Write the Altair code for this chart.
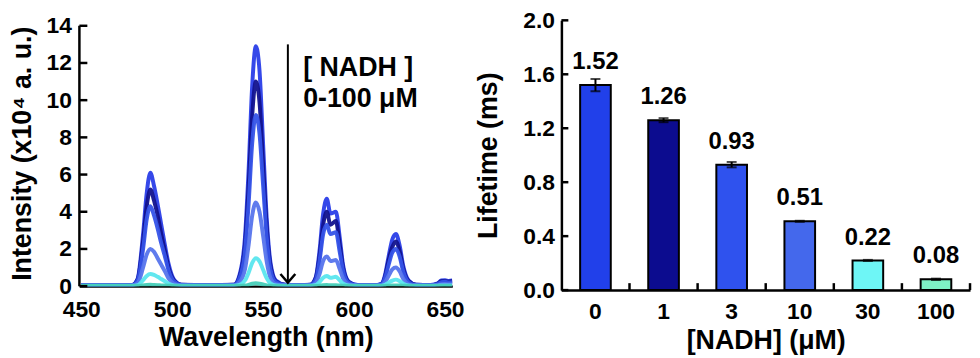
import altair as alt
import pandas as pd

# ---------------- data ----------------
wavelength = [450, 470, 478, 481, 484, 486, 488, 490, 492, 494,
              496, 498, 501, 505, 520, 534, 537, 540, 542, 544,
              546, 548, 550, 552, 554, 557, 562, 570, 576, 579,
              581, 583, 585, 587, 590, 592, 594, 597, 602, 612,
              615, 617, 619, 621, 623, 625, 627, 630, 634, 642,
              646, 648, 650, 652, 654]

spec_0uM = [0.05, 0.05, 0.06, 0.40, 2.8, 5.0, 6.1, 5.4, 4.4, 3.3,
            2.2, 1.2, 0.35, 0.08, 0.05, 0.08, 0.6, 2.6, 6.2, 10.8,
            12.9, 11.6, 7.6, 3.6, 1.3, 0.3, 0.08, 0.05, 0.08, 0.5,
            1.9, 3.9, 4.7, 3.9, 4.0, 2.7, 1.1, 0.25, 0.06, 0.05,
            0.12, 0.6, 1.6, 2.5, 2.8, 2.2, 1.1, 0.3, 0.08, 0.06,
            0.15, 0.30, 0.32, 0.28, 0.30]
spec_1uM = [0.05, 0.05, 0.06, 0.35, 2.4, 4.3, 5.2, 4.6, 3.8, 2.8,
            1.9, 1.0, 0.30, 0.07, 0.05, 0.07, 0.5, 2.2, 5.3, 9.2,
            11.0, 9.9, 6.5, 3.1, 1.1, 0.25, 0.07, 0.05, 0.07, 0.45,
            1.6, 3.3, 4.0, 3.3, 3.5, 2.3, 0.95, 0.22, 0.05, 0.05,
            0.10, 0.5, 1.4, 2.1, 2.4, 1.9, 0.95, 0.26, 0.07, 0.05,
            0.13, 0.26, 0.27, 0.24, 0.26]
spec_3uM = [0.04, 0.04, 0.05, 0.30, 2.0, 3.6, 4.3, 3.8, 3.1, 2.3,
            1.6, 0.85, 0.25, 0.06, 0.04, 0.06, 0.43, 1.85, 4.4, 7.7,
            9.2, 8.2, 5.4, 2.6, 0.9, 0.21, 0.06, 0.04, 0.06, 0.36,
            1.35, 2.8, 3.3, 2.8, 2.9, 1.9, 0.8, 0.18, 0.04, 0.04,
            0.09, 0.43, 1.15, 1.8, 2.0, 1.6, 0.8, 0.21, 0.06, 0.04,
            0.11, 0.21, 0.23, 0.20, 0.21]
spec_10uM = [0.03, 0.03, 0.03, 0.15, 1.0, 1.7, 2.0, 1.85, 1.5, 1.15,
             0.8, 0.42, 0.12, 0.03, 0.03, 0.03, 0.21, 0.9, 2.2, 3.8,
             4.5, 4.0, 2.7, 1.3, 0.45, 0.10, 0.03, 0.03, 0.03, 0.18,
             0.65, 1.35, 1.6, 1.35, 1.4, 0.95, 0.4, 0.09, 0.03, 0.03,
             0.04, 0.21, 0.56, 0.9, 1.0, 0.8, 0.4, 0.10, 0.03, 0.03,
             0.05, 0.10, 0.11, 0.10, 0.10]
spec_30uM = [0.02, 0.02, 0.02, 0.05, 0.32, 0.55, 0.65, 0.6, 0.5, 0.38,
             0.26, 0.14, 0.04, 0.02, 0.02, 0.02, 0.07, 0.3, 0.72, 1.25,
             1.5, 1.33, 0.88, 0.42, 0.15, 0.04, 0.02, 0.02, 0.02, 0.06,
             0.22, 0.45, 0.55, 0.45, 0.5, 0.32, 0.13, 0.03, 0.02, 0.02,
             0.02, 0.07, 0.19, 0.3, 0.35, 0.27, 0.13, 0.04, 0.02, 0.02,
             0.02, 0.04, 0.04, 0.03, 0.04]
spec_100uM = [0.01, 0.01, 0.01, 0.01, 0.04, 0.06, 0.07, 0.06, 0.05, 0.04,
              0.03, 0.02, 0.01, 0.01, 0.01, 0.01, 0.01, 0.03, 0.07, 0.13,
              0.15, 0.13, 0.09, 0.04, 0.02, 0.01, 0.01, 0.01, 0.01, 0.01,
              0.02, 0.05, 0.06, 0.05, 0.05, 0.03, 0.02, 0.01, 0.01, 0.01,
              0.01, 0.01, 0.02, 0.03, 0.04, 0.03, 0.02, 0.01, 0.01, 0.01,
              0.01, 0.01, 0.01, 0.01, 0.01]

spectra = [spec_0uM, spec_1uM, spec_3uM, spec_10uM, spec_30uM, spec_100uM]
line_colors = ["#2a3ee8", "#12128e", "#3553e8", "#5674ec", "#5ae6ee", "#46cdb8"]

conc_labels = ["0", "1", "3", "10", "30", "100"]
lifetime = [1.52, 1.26, 0.93, 0.51, 0.22, 0.08]
lifetime_err = [0.045, 0.015, 0.02, 0.004, 0.004, 0.005]
bar_colors = ["#2140ea", "#0c0c8f", "#2f52ee", "#4468ec", "#6ef6f6", "#7ef2c6"]

left_ticks = [0, 2, 4, 6, 8, 10, 12, 14]
left_xticks = [450, 500, 550, 600, 650]
right_ticks = [0.0, 0.4, 0.8, 1.2, 1.6, 2.0]

arrow_x = 563.6
arrow_top = 13.0
arrow_tip = 0.19
note_lines = ["[ NADH ]", "0-100 μM"]
note_x = 572.0
note_y = [11.28, 9.63]

FONT = "Liberation Sans"

for s in spectra:
    assert len(s) == len(wavelength)

# ---------------- left panel ----------------
LW, LH = 376, 268
x_scale = alt.Scale(domain=[449, 654], nice=False, zero=False)
y_scale = alt.Scale(domain=[0, 14.293], nice=False, zero=False)

x_axis = alt.Axis(values=left_xticks, title="Wavelength (nm)", labelPadding=13,
                  titlePadding=3, labelFlush=False, labelOverlap=False, ticks=False,
                  grid=False)
y_axis = alt.Axis(values=left_ticks, title="Intensity (x10⁴ a. u.)", labelPadding=8,
                  titlePadding=10, labelFlush=False, labelOverlap=False, ticks=False,
                  domain=False, grid=False)


def LX(field):
    return alt.X(field, type="quantitative", scale=x_scale, axis=x_axis)


def LY(field):
    return alt.Y(field, type="quantitative", scale=y_scale, axis=y_axis)


line_layers = []
for s, c in zip(spectra, line_colors):
    df = pd.DataFrame({"wl": wavelength, "I": s})
    line_layers.append(
        alt.Chart(df).mark_line(color=c, strokeWidth=4, interpolate="monotone",
                                opacity=0.95, clip=True)
        .encode(x=LX("wl"), y=LY("I"))
    )

arrow_df = pd.DataFrame({"x": [arrow_x], "y1": [arrow_top], "y2": [arrow_tip]})
arrow = alt.Chart(arrow_df).mark_rule(color="black", strokeWidth=2).encode(
    x=LX("x"), y=LY("y1"), y2="y2:Q",
)
arrow_head = alt.Chart(arrow_df).mark_point(
    shape="M-1,-1.15L0,0L1,-1.15", size=225, filled=False, color="black",
    strokeWidth=2.5, opacity=1,
).encode(x=LX("x"), y=LY("y2"))

note_df = pd.DataFrame({"x": [note_x] * len(note_lines), "y": note_y, "t": note_lines})
note = alt.Chart(note_df).mark_text(
    align="left", baseline="alphabetic", font=FONT, fontSize=27, fontWeight="bold",
    color="black",
).encode(x=LX("x"), y=LY("y"), text="t:N")

yline_df = pd.DataFrame({"a": [left_ticks[0]], "b": [left_ticks[-1]]})
left_yline = alt.Chart(yline_df).mark_rule(color="black", strokeWidth=2.5).encode(
    x=alt.value(0), y=LY("a"), y2="b:Q",
)
lt_df = pd.DataFrame({"v": left_ticks})
left_inticks = alt.Chart(lt_df).mark_rule(color="black", strokeWidth=2.5).encode(
    x=alt.value(0), x2=alt.value(8), y=LY("v"),
)

left = alt.layer(*line_layers, arrow, arrow_head, note, left_yline, left_inticks).properties(
    width=LW, height=LH
)

# ---------------- right panel ----------------
RW, RH = 412, 272
STEP = RW / len(conc_labels)
bx_scale = alt.Scale(domain=conc_labels, paddingInner=0.55, paddingOuter=0.275)
by_scale = alt.Scale(domain=[0, 2.0], nice=False, zero=True)

bar_df = pd.DataFrame({
    "c": conc_labels,
    "v": lifetime,
    "lo": [v - e for v, e in zip(lifetime, lifetime_err)],
    "hi": [v + e for v, e in zip(lifetime, lifetime_err)],
})

bx_axis = alt.Axis(title="[NADH] (μM)", labelAngle=0, labelPadding=11, titlePadding=4,
                   ticks=False, grid=False)
by_axis = alt.Axis(values=right_ticks, format=".1f", title="Lifetime (ms)", labelPadding=7,
                   titlePadding=20, ticks=False, labelFlush=False,
                   labelOverlap=False, grid=False)


def RX(field, **kw):
    return alt.X(field, type="nominal", scale=bx_scale, sort=conc_labels, axis=bx_axis, **kw)


def RY(field):
    return alt.Y(field, type="quantitative", scale=by_scale, axis=by_axis)


bars = alt.Chart(bar_df).mark_bar(stroke="black", strokeWidth=2).encode(
    x=RX("c"), y=RY("v"),
    color=alt.Color("c:N", scale=alt.Scale(domain=conc_labels, range=bar_colors), legend=None),
)
err = alt.Chart(bar_df).mark_rule(color="black", strokeWidth=2).encode(
    x=RX("c"), y=RY("lo"), y2="hi:Q",
)
cap_lo = alt.Chart(bar_df).mark_tick(color="black", orient="horizontal", size=10,
                                     thickness=2).encode(x=RX("c"), y=RY("lo"))
cap_hi = alt.Chart(bar_df).mark_tick(color="black", orient="horizontal", size=10,
                                     thickness=2).encode(x=RX("c"), y=RY("hi"))
labels = alt.Chart(bar_df).mark_text(
    font=FONT, fontSize=24, fontWeight="bold", color="black", baseline="middle", dy=-23,
).encode(x=RX("c"), y=RY("v"), text=alt.Text("v:Q", format=".2f"))

rt_df = pd.DataFrame({"v": right_ticks})
right_inticks = alt.Chart(rt_df).mark_rule(color="black", strokeWidth=2.5).encode(
    x=alt.value(0), x2=alt.value(7), y=RY("v"),
)
bnd_df = pd.DataFrame({"c": conc_labels[1:]})
band_ticks = alt.Chart(bnd_df).mark_rule(color="black", strokeWidth=2.5,
                                         xOffset=-STEP / 2).encode(
    x=RX("c", bandPosition=0.5), y=alt.value(RH), y2=alt.value(RH - 7),
)
end_df = pd.DataFrame({"c": conc_labels[-1:]})
band_tick_end = alt.Chart(end_df).mark_rule(color="black", strokeWidth=2.5,
                                            xOffset=STEP / 2).encode(
    x=RX("c", bandPosition=0.5), y=alt.value(RH), y2=alt.value(RH - 7),
)

right = alt.layer(bars, err, cap_lo, cap_hi, labels, right_inticks, band_ticks,
                  band_tick_end).properties(width=RW, height=RH)

chart = alt.hconcat(left, right, spacing=110, bounds="flush").properties(
    padding=0
).configure_view(stroke=None).configure_axis(
    domainColor="black", domainWidth=2.5,
    labelFont=FONT, labelFontSize=23, labelFontWeight="bold", labelColor="black",
    titleFont=FONT, titleFontSize=27, titleFontWeight="bold", titleColor="black",
)

chart.save("out.html", embed_options={"renderer": "svg", "actions": False})
